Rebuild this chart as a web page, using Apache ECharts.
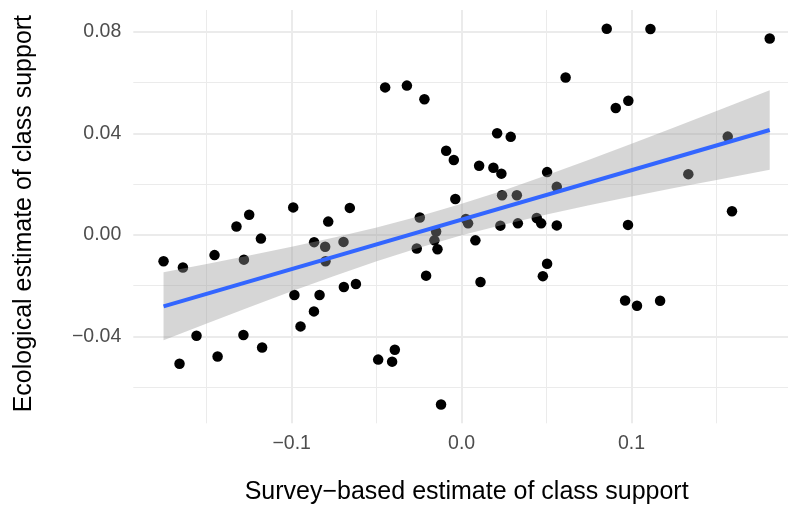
<!DOCTYPE html>
<html><head><meta charset="utf-8">
<script src="https://cdn.jsdelivr.net/npm/echarts@6/dist/echarts.min.js"></script>
<style>html,body{margin:0;padding:0;background:#fff}#c{width:788px;height:512px}</style>
</head><body><div id="c"></div>
<script>
const surveyX = [-0.1754,-0.1640,-0.1660,-0.1560,-0.1454,-0.1436,-0.1325,-0.1250,-0.1284,-0.1281,
  -0.1181,-0.1174,-0.0991,-0.0984,-0.0948,-0.0869,-0.0868,-0.0836,-0.0803,-0.0801,
  -0.0785,-0.0695,-0.0693,-0.0658,-0.0622,-0.0491,-0.0450,-0.0409,-0.0393,-0.0322,
  -0.0264,-0.0246,-0.0219,-0.0209,-0.0160,-0.0150,-0.0142,-0.0121,-0.0091,-0.0046,
  -0.0037,0.0025,0.0038,0.0081,0.0103,0.0111,0.0187,0.0209,0.0234,0.0238,
  0.0228,0.0289,0.0325,0.0331,0.0442,0.0468,0.0478,0.0503,0.0503,0.0560,
  0.0560,0.0612,0.0854,0.0907,0.0962,0.0979,0.0981,0.1032,0.1111,0.1168,
  0.1334,0.1566,0.1591,0.1813];
const ecoY = [-0.0104,-0.0129,-0.0508,-0.0398,-0.0080,-0.0480,0.0033,0.0079,-0.0395,-0.0098,
  -0.0015,-0.0444,0.0108,-0.0237,-0.0361,-0.0302,-0.0029,-0.0237,-0.0047,-0.0104,
  0.0052,-0.0028,-0.0206,0.0106,-0.0194,-0.0492,0.0581,-0.0500,-0.0453,0.0588,
  -0.0054,0.0068,0.0534,-0.0161,-0.0022,0.0013,-0.0057,-0.0669,0.0331,0.0295,
  0.0141,0.0062,0.0045,-0.0022,0.0272,-0.0186,0.0264,0.0400,0.0241,0.0156,
  0.0036,0.0386,0.0156,0.0045,0.0066,0.0045,-0.0163,-0.0114,0.0247,0.0189,
  0.0037,0.0620,0.0812,0.0500,-0.0259,0.0039,0.0528,-0.0280,0.0811,-0.0260,
  0.0239,0.0387,0.0093,0.0774];

const fitX = [-0.1754, 0.1813];
const fitY = [-0.0282, 0.0413];
const bandX = [-0.1754,-0.15,-0.125,-0.1,-0.075,-0.05,-0.025,0,0.025,0.05,0.075,0.1,0.125,0.15,0.1813];
const bandLow = [-0.0416,-0.0350,-0.0286,-0.0223,-0.0162,-0.0104,-0.0051,-0.0002,0.0041,0.0080,0.0116,0.0151,0.0184,0.0216,0.0256];
const bandHigh = [-0.0148,-0.0115,-0.0082,-0.0047,-0.0011,0.0029,0.0073,0.0122,0.0176,0.0235,0.0296,0.0359,0.0423,0.0488,0.0570];

const xTickValues = [-0.1, 0, 0.1];
const xTickLabels = ['\u22120.1', '0.0', '0.1'];
const xMinorGrid = [-0.15, -0.05, 0.05, 0.15];
const yTickValues = [-0.04, 0, 0.04, 0.08];
const yTickLabels = ['\u22120.04', '0.00', '0.04', '0.08'];
const yMinorGrid = [-0.06, -0.02, 0.02, 0.06];

const xTitle = 'Survey\u2212based estimate of class support';
const yTitle = 'Ecological estimate of class support';

const FONT = '"Liberation Sans", Arial, Helvetica, sans-serif';
const GRID_COLOR = '#EBEBEB';

function labelFor(values, labels) {
  return function (v) {
    for (let i = 0; i < values.length; i++) {
      if (Math.abs(v - values[i]) < 1e-6) return labels[i];
    }
    return '';
  };
}

const gridLines = []
  .concat(xTickValues.map(v => ({ xAxis: v, lineStyle: { width: 2 } })))
  .concat(xMinorGrid.map(v => ({ xAxis: v, lineStyle: { width: 1 } })))
  .concat(yTickValues.map(v => ({ yAxis: v, lineStyle: { width: 2 } })))
  .concat(yMinorGrid.map(v => ({ yAxis: v, lineStyle: { width: 1 } })));

const chart = echarts.init(document.getElementById('c'), null, { renderer: 'canvas' });
chart.setOption({
  animation: false,
  backgroundColor: '#ffffff',
  textStyle: { fontFamily: FONT },
  grid: { left: 133.3, top: 10, width: 654.7, height: 413.3, containLabel: false },
  xAxis: {
    type: 'value', min: -0.1932, max: 0.19206, splitNumber: 4,
    axisLine: { show: false }, axisTick: { show: false }, splitLine: { show: false },
    axisLabel: { customValues: xTickValues, formatter: labelFor(xTickValues, xTickLabels),
      color: '#4D4D4D', fontSize: 19.5, fontFamily: FONT, margin: 10,
      showMinLabel: true, showMaxLabel: true },
    name: xTitle, nameLocation: 'middle', nameGap: 56,
    nameTextStyle: { color: '#000', fontSize: 25, fontFamily: FONT, padding: [0, 0, 0, 12] }
  },
  yAxis: {
    type: 'value', min: -0.0743, max: 0.0886, splitNumber: 8,
    axisLine: { show: false }, axisTick: { show: false }, splitLine: { show: false },
    axisLabel: { customValues: yTickValues, formatter: labelFor(yTickValues, yTickLabels),
      color: '#4D4D4D', fontSize: 19.5, fontFamily: FONT, margin: 12,
      showMinLabel: true, showMaxLabel: true },
    name: yTitle, nameLocation: 'middle', nameGap: 97, nameRotate: 90,
    nameTextStyle: { color: '#000', fontSize: 25, fontFamily: FONT, padding: [0, 0, 0, 6] }
  },
  series: [
    {
      type: 'scatter', z: 2,
      data: surveyX.map((x, i) => [x, ecoY[i]]),
      symbol: 'circle', symbolSize: 10.5,
      itemStyle: { color: '#000000', opacity: 1 },
      silent: true,
      markLine: {
        z: 1, silent: true, symbol: ['none', 'none'], animation: false,
        label: { show: false },
        lineStyle: { color: GRID_COLOR, type: 'solid' },
        emphasis: { disabled: true },
        data: gridLines
      }
    },
    {
      type: 'custom', z: 3, silent: true,
      data: bandX.map((x, i) => [x, bandLow[i], bandHigh[i]]),
      encode: { x: 0, y: [1, 2] },
      renderItem: function (params, api) {
        if (params.dataIndex !== 0) return null;
        const pts = [];
        for (let i = 0; i < bandX.length; i++) pts.push(api.coord([bandX[i], bandHigh[i]]));
        for (let i = bandX.length - 1; i >= 0; i--) pts.push(api.coord([bandX[i], bandLow[i]]));
        return { type: 'polygon', shape: { points: pts }, style: { fill: 'rgba(153,153,153,0.4)' } };
      }
    },
    {
      type: 'line', z: 4, silent: true,
      data: fitX.map((x, i) => [x, fitY[i]]),
      symbol: 'none',
      lineStyle: { color: '#3366FF', width: 4 }
    }
  ]
});
</script>
</body></html>
